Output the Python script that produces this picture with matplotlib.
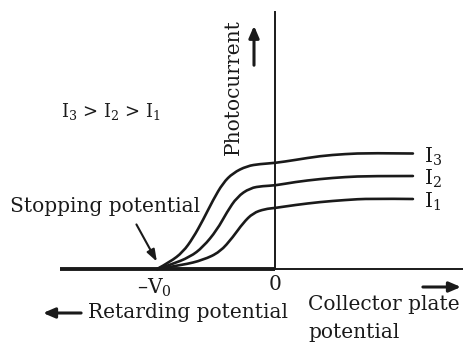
import matplotlib
matplotlib.use("Agg")
import matplotlib.pyplot as plt
from matplotlib.path import Path
from matplotlib.patches import PathPatch

plt.rcParams['font.family'] = 'DejaVu Serif'
plt.rcParams['mathtext.fontset'] = 'dejavuserif'

# collector potential in units of the stopping potential V0, photocurrent in arbitrary units
v_i3 = [-1.0, -0.89, -0.78, -0.695, -0.61, -0.525, -0.441, -0.356, -0.237, -0.127, 0.0,
        0.169, 0.381, 0.593, 0.805, 1.169]
i3 = [0.0, 0.07, 0.17, 0.31, 0.49, 0.69, 0.86, 0.96, 1.03, 1.05, 1.06,
      1.09, 1.13, 1.15, 1.16, 1.155]

v_i2 = [-1.0, -0.89, -0.72, -0.61, -0.492, -0.407, -0.322, -0.212, -0.102, 0.0,
        0.169, 0.381, 0.593, 0.805, 1.169]
i2 = [0.0, 0.04, 0.12, 0.22, 0.39, 0.57, 0.72, 0.81, 0.83, 0.835,
      0.87, 0.90, 0.92, 0.93, 0.93]

v_i1 = [-1.0, -0.78, -0.61, -0.466, -0.356, -0.271, -0.186, -0.085, 0.0,
        0.169, 0.381, 0.593, 0.805, 1.169]
i1 = [0.0, 0.04, 0.09, 0.17, 0.32, 0.46, 0.56, 0.60, 0.61,
      0.64, 0.67, 0.69, 0.705, 0.70]

curves = [(v_i3, i3, r'I$_3$'), (v_i2, i2, r'I$_2$'), (v_i1, i1, r'I$_1$')]

ink = '#1a1a1a'
fs = 14.5


def smooth_path(xs, ys):
    # quadratic bezier through segment midpoints, the points act as control points
    pts = list(zip(xs, ys))
    verts = [pts[0]]
    codes = [Path.MOVETO]
    for k in range(1, len(pts) - 1):
        mid = ((pts[k][0] + pts[k + 1][0]) / 2, (pts[k][1] + pts[k + 1][1]) / 2)
        if k == len(pts) - 2:
            mid = pts[-1]
        verts += [pts[k], mid]
        codes += [Path.CURVE3, Path.CURVE3]
    return Path(verts, codes)


fig = plt.figure(figsize=(4.64, 3.43), dpi=100)
ax = fig.add_axes([0, 0, 1, 1])
ax.set_xlim(-2.331, 1.602)
ax.set_ylim(-0.74, 2.69)
ax.axis('off')

# axes
ax.plot([-1.822, 0], [0, 0], color=ink, lw=2.8, solid_capstyle='butt')
ax.plot([0, 1.61], [0, 0], color=ink, lw=1.4)
ax.plot([0, 0], [0, 2.57], color=ink, lw=1.4)

for v, i, lab in curves:
    ax.add_patch(PathPatch(smooth_path(v, i), facecolor='none', edgecolor=ink, lw=1.9,
                           capstyle='round', joinstyle='round'))
    ax.text(1.26, i[-1] - 0.03, lab, fontsize=fs, va='center', ha='left', color=ink)

arrow = dict(arrowstyle='-|>,head_length=0.7,head_width=0.3', color=ink, lw=2.2)
ax.annotate('', xy=(-0.178, 2.46), xytext=(-0.178, 2.01), arrowprops=arrow)
ax.annotate('', xy=(1.60, -0.18), xytext=(1.23, -0.18), arrowprops=arrow)
ax.annotate('', xy=(-1.99, -0.44), xytext=(-1.62, -0.44), arrowprops=arrow)

ax.text(-0.356, 1.82, 'Photocurrent', rotation=90, fontsize=fs, ha='center', va='center', color=ink)
ax.text(-1.39, 1.58, r'I$_3$ > I$_2$ > I$_1$', fontsize=13, ha='center', va='center', color=ink)
ax.text(-1.44, 0.62, 'Stopping potential', fontsize=fs, ha='center', va='center', color=ink)
ax.annotate('', xy=(-0.99, 0.05), xytext=(-1.186, 0.47),
            arrowprops=dict(arrowstyle='-|>,head_length=0.7,head_width=0.25', color=ink, lw=1.5))
ax.text(-1.02, -0.19, r'–V$_0$', fontsize=fs, ha='center', va='center', color=ink)
ax.text(0, -0.15, '0', fontsize=fs, ha='center', va='center', color=ink)
ax.text(-1.585, -0.44, 'Retarding potential', fontsize=fs, ha='left', va='center', color=ink)
ax.text(0.28, -0.36, 'Collector plate', fontsize=fs, ha='left', va='center', color=ink)
ax.text(0.28, -0.64, 'potential', fontsize=fs, ha='left', va='center', color=ink)

fig.savefig('out.png', dpi=100)
